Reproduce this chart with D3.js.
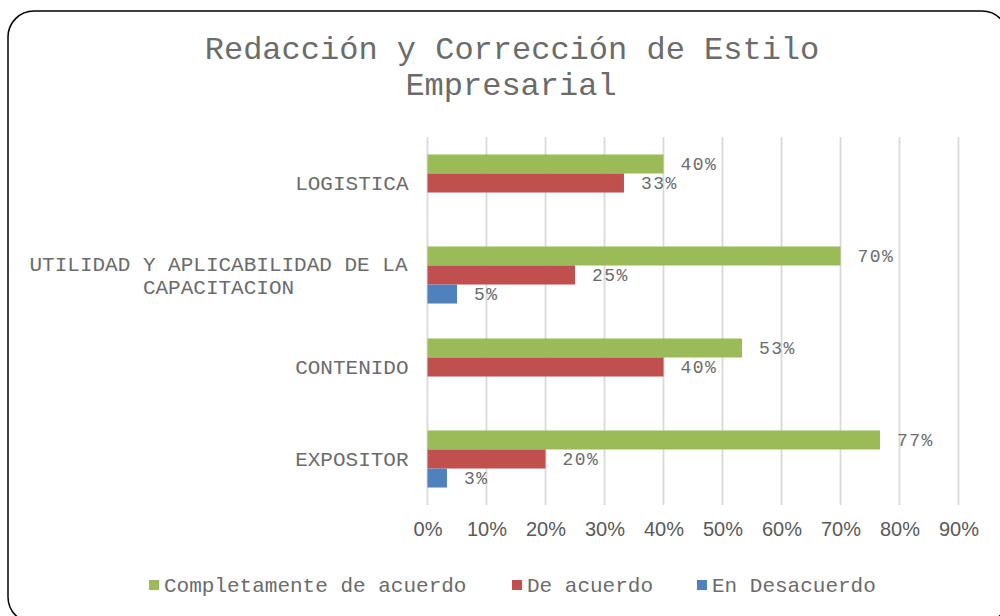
<!DOCTYPE html>
<html>
<head>
<meta charset="utf-8">
<script src="https://cdn.jsdelivr.net/npm/d3@7"></script>
<style>
  body { margin: 0; background: #fff; }
  svg { display: block; }
</style>
</head>
<body>
<div id="chart"></div>
<script>
// categories as shown from top to bottom
var categories = ["LOGISTICA", "UTILIDAD Y APLICABILIDAD DE LA|CAPACITACION", "CONTENIDO", "EXPOSITOR"];
var seriesNames = ["Completamente de acuerdo", "De acuerdo", "En Desacuerdo"];
var completamente = [0.40, 0.70, 0.533, 0.767];
var deAcuerdo = [0.333, 0.25, 0.40, 0.20];
var desacuerdo = [null, 0.05, null, 0.033];
var xTicks = [0, 0.1, 0.2, 0.3, 0.4, 0.5, 0.6, 0.7, 0.8, 0.9];
var colors = ["#9bbb59", "#c0504d", "#4f81bd"];

var width = 1000, height = 616;
var mono = "'Liberation Mono', 'Courier New', monospace";
var textColor = "#595959";
var monoColor = "#6b6b6b"; // lighter, the original mono font has thin strokes

var svg = d3.select("#chart").append("svg")
    .attr("width", width)
    .attr("height", height);

// chart border
svg.append("rect")
    .attr("x", 8).attr("y", 11)
    .attr("width", 1000).attr("height", 612)
    .attr("rx", 26).attr("ry", 26)
    .attr("fill", "#fff")
    .attr("stroke", "#000")
    .attr("stroke-width", 1.5);

// title
var title = svg.append("text")
    .attr("text-anchor", "middle")
    .attr("font-family", mono)
    .attr("font-size", 32)
    .attr("fill", monoColor);
title.append("tspan").attr("x", 512).attr("y", 59).text("Redacción y Corrección de Estilo");
title.append("tspan").attr("x", 511).attr("y", 95).text("Empresarial");

// scales
var xScale = d3.scaleLinear()
    .domain([0, 0.9])
    .range([427.5, 958.5]);

var yScale = d3.scaleBand()
    .domain(categories)
    .range([137, 505])
    .paddingInner(0.38)
    .paddingOuter(0.19);

var ySub = d3.scaleBand()
    .domain(seriesNames)
    .range([0, yScale.bandwidth()]);

// gridlines
svg.append("g")
    .selectAll("line")
    .data(xTicks)
    .enter()
    .append("line")
    .attr("x1", function(d) { return xScale(d); })
    .attr("x2", function(d) { return xScale(d); })
    .attr("y1", 137)
    .attr("y2", 505)
    .attr("stroke", "#d9d9d9")
    .attr("stroke-width", 1.8);

// x axis labels
var xAxis = d3.axisBottom(xScale)
    .tickValues(xTicks)
    .tickFormat(d3.format(".0%"))
    .tickSize(0)
    .tickPadding(0);
var gx = svg.append("g")
    .attr("transform", "translate(0,522)")
    .call(xAxis);
gx.select(".domain").remove();
gx.selectAll("text")
    .attr("font-family", "'Liberation Sans', Arial, sans-serif")
    .attr("font-size", 20)
    .attr("fill", textColor);

// category labels
var catLabels = svg.append("g")
    .selectAll("text")
    .data(categories)
    .enter()
    .append("text")
    .attr("font-family", mono)
    .attr("font-size", 21)
    .attr("fill", monoColor)
    .attr("text-anchor", "middle");

catLabels.each(function(d) {
  var lines = d.split("|");
  var cy = yScale(d) + yScale.bandwidth() / 2;
  var t = d3.select(this);
  var maxLen = d3.max(lines, function(l) { return l.length; });
  var cx = 409 - maxLen * 12.7 / 2;
  lines.forEach(function(l, i) {
    t.append("tspan")
      .attr("x", cx)
      .attr("y", cy + (i - (lines.length - 1) / 2) * 23)
      .attr("dy", "0.35em")
      .text(l);
  });
});

// build bars
var rows = [];
categories.forEach(function(c, i) {
  [completamente, deAcuerdo, desacuerdo].forEach(function(arr, j) {
    if (arr[i] != null) {
      rows.push({ cat: c, series: seriesNames[j], value: arr[i], color: colors[j] });
    }
  });
});

svg.append("g")
    .selectAll("rect")
    .data(rows)
    .enter()
    .append("rect")
    .attr("x", xScale(0))
    .attr("y", function(d) { return yScale(d.cat) + ySub(d.series); })
    .attr("width", function(d) { return xScale(d.value) - xScale(0); })
    .attr("height", ySub.bandwidth())
    .attr("fill", function(d) { return d.color; });

// data labels
svg.append("g")
    .selectAll("text")
    .data(rows)
    .enter()
    .append("text")
    .attr("x", function(d) { return xScale(d.value) + 17; })
    .attr("y", function(d) { return yScale(d.cat) + ySub(d.series) + ySub.bandwidth() / 2; })
    .attr("dy", "0.35em")
    .attr("font-family", mono)
    .attr("font-size", 18)
    .attr("letter-spacing", 1.5)
    .attr("fill", monoColor)
    .text(function(d) { return Math.round(d.value * 100) + "%"; });

// legend
var legendX = [149, 512, 697];
var legend = svg.append("g")
    .selectAll("g")
    .data(seriesNames)
    .enter()
    .append("g")
    .attr("transform", function(d, i) { return "translate(" + legendX[i] + ",585)"; });

legend.append("rect")
    .attr("x", 0)
    .attr("y", -5)
    .attr("width", 10)
    .attr("height", 10)
    .attr("fill", function(d, i) { return colors[i]; });

legend.append("text")
    .attr("x", 15)
    .attr("y", 0)
    .attr("dy", "0.35em")
    .attr("font-family", mono)
    .attr("font-size", 21)
    .attr("fill", monoColor)
    .text(function(d) { return d; });
</script>
</body>
</html>
